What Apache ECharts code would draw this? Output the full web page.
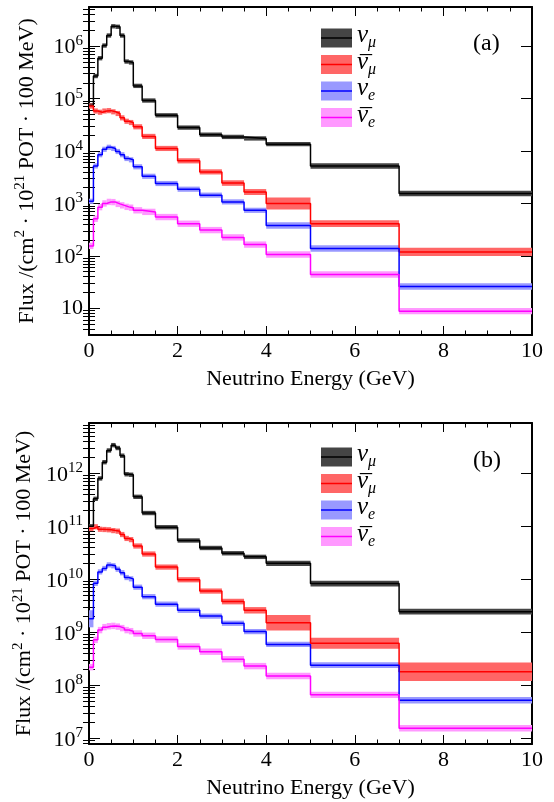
<!DOCTYPE html>
<html><head><meta charset="utf-8">
<script src="https://cdn.jsdelivr.net/npm/echarts@6/dist/echarts.min.js"></script>
<style>html,body{margin:0;padding:0;background:#fff}#c{width:554px;height:802px}</style>
</head><body><div id="c"></div>
<script>
// ---------------- data ----------------
const binEdges = [0,0.1,0.2,0.3,0.4,0.5,0.6,0.7,0.8,0.9,1.0,1.2,1.5,2.0,2.5,3.0,3.5,4.0,5.0,7.0,10.0];

// panel (a)
const fluxA_numu    = [7.5e4,2.7e5,5.9e5,1.03e6,1.6e6,2.4e6,2.35e6,1.6e6,5.1e5,4.9e5,1.75e5,9.2e4,4.8e4,2.8e4,2.05e4,1.86e4,1.74e4,1.35e4,5.2e3,1.55e3];
const fluxA_numubar = [7.2e4,5.8e4,5.5e4,5.8e4,5.9e4,5.6e4,5.2e4,4.3e4,3.7e4,3.5e4,2.9e4,1.9e4,1.12e4,6.5e3,4.0e3,2.45e3,1.65e3,1.0e3,4.1e2,1.19e2];
const fluxA_nue     = [1.1e3,5.2e3,8.5e3,1.08e4,1.18e4,1.12e4,9.8e3,8.5e3,7.2e3,6.8e3,5.0e3,3.3e3,2.4e3,1.87e3,1.44e3,1.07e3,7.4e2,3.8e2,1.38e2,26];
const fluxA_nuebar  = [1.55e2,5.1e2,8.5e2,1.0e3,1.07e3,1.06e3,9.8e2,9.2e2,8.6e2,8.3e2,7.4e2,6.9e2,5.5e2,4.1e2,3.1e2,2.25e2,1.64e2,1.06e2,44,8.8];
const errA_numu     = [0.10,0.10,0.10,0.10,0.10,0.10,0.10,0.10,0.10,0.10,0.10,0.10,0.10,0.10,0.10,0.10,0.10,0.10,0.13,0.13];
const errA_numubar  = [0.12,0.12,0.12,0.12,0.12,0.12,0.12,0.12,0.12,0.12,0.12,0.12,0.12,0.12,0.12,0.13,0.14,0.30,0.16,0.20];
const errA_nue      = [0.12,0.12,0.12,0.12,0.12,0.12,0.12,0.12,0.12,0.12,0.12,0.12,0.12,0.12,0.12,0.12,0.12,0.15,0.15,0.15];
const errA_nuebar   = [0.15,0.15,0.15,0.15,0.15,0.15,0.15,0.15,0.15,0.15,0.15,0.15,0.15,0.15,0.15,0.15,0.15,0.15,0.15,0.15];

// panel (b)
const fluxB_numu    = [1.0e11,3.3e11,8.0e11,1.62e12,2.7e12,3.4e12,3.0e12,2.15e12,9.6e11,9.4e11,3.6e11,1.78e11,9.6e10,5.4e10,3.9e10,3.1e10,2.65e10,2.0e10,8.3e9,2.45e9];
const fluxB_numubar = [9.1e10,9.8e10,8.8e10,8.7e10,8.6e10,8.3e10,8.1e10,7.0e10,5.9e10,5.6e10,4.25e10,3.0e10,1.7e10,9.8e9,6.0e9,3.8e9,2.6e9,1.52e9,6.2e8,1.8e8];
const fluxB_nue     = [1.8e9,8.4e9,1.38e10,1.6e10,1.87e10,1.8e10,1.55e10,1.33e10,1.08e10,1.02e10,7.1e9,4.7e9,3.4e9,2.6e9,2.02e9,1.48e9,1.03e9,5.9e8,2.4e8,5.2e7];
const fluxB_nuebar  = [2.2e8,7.2e8,1.1e9,1.25e9,1.3e9,1.32e9,1.28e9,1.2e9,1.1e9,1.05e9,9.5e8,8.6e8,7.3e8,5.4e8,4.3e8,3.1e8,2.3e8,1.5e8,6.6e7,1.55e7];
const errB_numu     = [0.10,0.10,0.10,0.10,0.10,0.10,0.10,0.10,0.10,0.10,0.10,0.10,0.10,0.10,0.10,0.10,0.10,0.12,0.13,0.13];
const errB_numubar  = [0.12,0.12,0.12,0.12,0.12,0.12,0.12,0.12,0.12,0.12,0.12,0.12,0.12,0.12,0.12,0.13,0.15,0.40,0.27,0.50];
const errB_nue      = [0.45,0.12,0.12,0.12,0.12,0.12,0.12,0.12,0.12,0.12,0.12,0.12,0.12,0.12,0.12,0.12,0.12,0.12,0.13,0.15];
const errB_nuebar   = [0.15,0.15,0.15,0.15,0.15,0.15,0.15,0.15,0.15,0.15,0.15,0.15,0.15,0.15,0.15,0.15,0.15,0.15,0.15,0.15];

const xTickLabels = [0,2,4,6,8,10];
const yTicksA = [10,1e2,1e3,1e4,1e5,1e6];
const yTicksB = [1e7,1e8,1e9,1e10,1e11,1e12];
// first line carries the bar of the anti-neutrino symbols
const legendLabels = ['{o| }\n{g|ν}{s|μ}','{o|_}\n{g|ν}{s|μ}','{o| }\n{g|ν}{s|e}','{o|_}\n{g|ν}{s|e}'];
const panelTags = ['(a)','(b)'];

// ---------------- style ----------------
const FONT = 'Liberation Serif';
const lineColors = ['#000000','#ff0000','#0000ff','#ff00ff'];
const bandColors = ['#454545','#ff6666','#9999ff','#ff99ff'];
const panels = [
  {fluxes:[fluxA_numu,fluxA_numubar,fluxA_nue,fluxA_nuebar], errs:[errA_numu,errA_numubar,errA_nue,errA_nuebar],
   yMin:3.09, yMax:5.6e6, ticks:yTicksA, grid:{left:89,top:7,width:443,height:328}, legendTop:7, tagTop:32},
  {fluxes:[fluxB_numu,fluxB_numubar,fluxB_nue,fluxB_nuebar], errs:[errB_numu,errB_numubar,errB_nue,errB_nuebar],
   yMin:7.8e6, yMax:8.9e12, ticks:yTicksB, grid:{left:89,top:423,width:443,height:321}, legendTop:426, tagTop:449}
];

function minorTicks(lo, hi){
  const out=[];
  for(let e=Math.floor(Math.log10(lo)); e<=Math.ceil(Math.log10(hi)); e++){
    for(let m=2;m<=9;m++){ const v=m*Math.pow(10,e); if(v>lo*1.001 && v<hi*0.999) out.push(v); }
  }
  return out;
}
function decadeLabel(v){
  const l=Math.log10(v), e=Math.round(l);
  if(Math.abs(l-e)>1e-6) return '';
  return e===1 ? '{b|10}' : '{b|10}{p|'+e+'}';
}
const labRich = {
  b:{fontFamily:FONT,fontSize:22,color:'#000',verticalAlign:'bottom'},
  p:{fontFamily:FONT,fontSize:15,color:'#000',verticalAlign:'bottom',padding:[0,0,10,0]}
};
const legRich = (col)=>({
  o:{fontFamily:FONT,fontSize:24,color:col,lineHeight:8,padding:[0,0,0,3]},
  g:{fontFamily:FONT,fontStyle:'italic',fontSize:25,color:col,verticalAlign:'top'},
  s:{fontFamily:FONT,fontStyle:'italic',fontSize:16,color:col,verticalAlign:'top',padding:[12,0,0,0]}
});
const lineIcon = 'path://M0,0L0.01,0L0,0.01ZM0,8.75L31,8.75L31,10.25L0,10.25ZM31,19L30.99,19L31,18.99Z';

const grid=[], xAxis=[], yAxis=[], series=[], legend=[], title=[];
panels.forEach((P,gi)=>{
  grid.push(Object.assign({containLabel:false}, P.grid));
  ['bottom','top'].forEach((pos,k)=>{
    xAxis.push({gridIndex:gi, type:'value', position:pos, min:0, max:10, interval:2,
      axisLine:{show:true,onZero:false,lineStyle:{color:'#000',width:2}},
      axisTick:{show:true,inside:true,length:9,lineStyle:{color:'#000',width:1}},
      minorTick:{show:true,splitNumber:4,length:4.5,lineStyle:{color:'#000',width:1}},
      axisLabel:{show:k===0,fontFamily:FONT,fontSize:22,color:'#000',margin:5,
        formatter:(v)=> xTickLabels.indexOf(v)>=0 ? String(v) : ''},
      splitLine:{show:false},
      name:k===0?'Neutrino Energy (GeV)':'', nameLocation:'middle', nameGap:33,
      nameTextStyle:{fontFamily:FONT,fontSize:22,color:'#000'}
    });
  });
  const mt = minorTicks(P.yMin,P.yMax);
  ['left','right'].forEach((pos,k)=>{
    yAxis.push({gridIndex:gi, type:'log', position:pos, min:P.yMin, max:P.yMax,
      axisLine:{show:true,onZero:false,lineStyle:{color:'#000',width:2}},
      axisTick:{show:true,inside:true,length:11,customValues:P.ticks,lineStyle:{color:'#000',width:1}},
      axisLabel:{show:k===0,customValues:P.ticks,margin:6,formatter:decadeLabel,rich:labRich},
      splitLine:{show:false},
      name:k===0?'{b|Flux /(cm}{p|2}{b| · 10}{p|21}{b| POT · 100 MeV)}':'', nameLocation:'middle', nameGap:51,
      nameTextStyle:{rich:labRich}
    });
    yAxis.push({gridIndex:gi, type:'log', position:pos, min:P.yMin, max:P.yMax,
      axisLine:{show:false},
      axisTick:{show:true,inside:true,length:6,customValues:mt,lineStyle:{color:'#000',width:1}},
      axisLabel:{show:false}, splitLine:{show:false}
    });
  });
  const bandNames=[], lineNames=[];
  P.fluxes.forEach((vals,k)=>{
    const errs=P.errs[k];
    const bandData = vals.map((v,i)=>[binEdges[i],binEdges[i+1],v/(1+errs[i]),v*(1+errs[i])]);
    const bn='band'+gi+'_'+k, ln='line'+gi+'_'+k;
    bandNames.push(bn); lineNames.push(ln);
    series.push({type:'custom', name:bn, xAxisIndex:2*gi, yAxisIndex:4*gi, clip:true, z:2,
      itemStyle:{color:bandColors[k]},
      encode:{x:[0,1],y:[2,3]},
      data:bandData,
      renderItem:(params,api)=>{
        const p0=api.coord([api.value(0),api.value(3)]);
        const p1=api.coord([api.value(1),api.value(2)]);
        return {type:'rect', shape:{x:p0[0],y:p0[1],width:p1[0]-p0[0],height:p1[1]-p0[1]},
          style:{fill:bandColors[k]}};
      }
    });
    const lineData = binEdges.map((e,i)=>[e, vals[Math.min(i, vals.length-1)]]);
    series.push({type:'line', name:ln, xAxisIndex:2*gi, yAxisIndex:4*gi, step:'end', symbol:'none',
      showSymbol:false, z:3, clip:true, color:lineColors[k],
      itemStyle:{color:lineColors[k]},
      lineStyle:{color:lineColors[k],width:1.5}, data:lineData});
  });
  const fmt = (name)=>{ const k=+name.split('_')[1]; return legendLabels[k]; };
  legend.push({data:bandNames, orient:'vertical', left:321, top:P.legendTop, padding:0, itemWidth:31, itemHeight:19,
    itemGap:-17.5, icon:'rect', selectedMode:false, formatter:fmt, z:5,
    textStyle:{rich:legRich('#000'), padding:[0,0,10,0]}});
  legend.push({data:lineNames, orient:'vertical', left:321, top:P.legendTop, padding:0, itemWidth:31, itemHeight:19,
    itemGap:-17.5, icon:lineIcon, selectedMode:false, formatter:fmt, z:6,
    textStyle:{rich:legRich('rgba(0,0,0,0)'), padding:[0,0,10,0]}});
  title.push({text:panelTags[gi], left:473, top:P.tagTop, padding:0,
    textStyle:{fontFamily:FONT,fontSize:24,fontWeight:'normal',color:'#000'}});
});

const chart = echarts.init(document.getElementById('c'), null, {renderer:'canvas'});
chart.setOption({animation:false, backgroundColor:'#fff', grid, xAxis, yAxis, series, legend, title});
</script></body></html>
